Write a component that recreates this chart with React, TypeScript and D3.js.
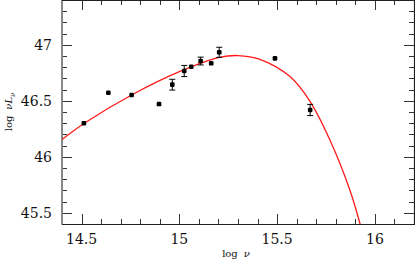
import { useEffect, useRef } from 'react'
import * as d3 from 'd3'

// observed points: log nu, log nuL_nu, error (0 = no bar)
const logNu = [14.512, 14.637, 14.756, 14.896, 14.964, 15.025, 15.061, 15.109, 15.163, 15.204, 15.489, 15.669]
const logL = [46.3, 46.572, 46.552, 46.471, 46.644, 46.766, 46.804, 46.855, 46.835, 46.933, 46.879, 46.418]
const logLErr = [0, 0, 0, 0, 0.048, 0.05, 0, 0.035, 0, 0.045, 0, 0.05]

// model curve
const modelNu = [14.4, 14.518, 14.756, 15.003, 15.205, 15.3, 15.412, 15.566, 15.668, 15.77, 15.872, 15.923, 15.975]
const modelL = [46.154, 46.304, 46.552, 46.762, 46.888, 46.904, 46.87, 46.716, 46.495, 46.15, 45.704, 45.409, 45.079]

const xTicks = [14.5, 15, 15.5, 16]
const xTickLabels = ['14.5', '15', '15.5', '16']
const yTicks = [45.5, 46, 46.5, 47]
const yTickLabels = ['45.5', '46', '46.5', '47']

export default function App() {
  const svgRef = useRef<SVGSVGElement>(null)

  useEffect(() => {
    if (!svgRef.current) return
    const width = 415
    const height = 261
    const left = 62, right = 414, top = 0, bottom = 224

    const svg = d3.select(svgRef.current)
    svg.selectAll('*').remove()
    svg.attr('width', width).attr('height', height)

    const x = d3.scaleLinear().domain([14.4, 16.2]).range([left, right])
    const y = d3.scaleLinear().domain([45.4, 47.4]).range([bottom, top])

    svg.append('defs').append('clipPath').attr('id', 'plot')
      .append('rect').attr('x', left).attr('y', top).attr('width', right - left).attr('height', bottom - top)

    // minor + major ticks on all four sides
    const tickCol = '#333'
    const g = svg.append('g').attr('stroke', tickCol).attr('stroke-width', 1)
    const xMinor = d3.range(144, 163).map((v) => v / 10)
    const yMinor = d3.range(454, 475).map((v) => v / 10)
    xMinor.forEach((v) => {
      const major = xTicks.some((t) => Math.abs(t - v) < 1e-6)
      const len = major ? 10 : 5
      const px = Math.round(x(v)) + 0.5
      g.append('line').attr('x1', px).attr('x2', px).attr('y1', bottom).attr('y2', bottom - len)
      g.append('line').attr('x1', px).attr('x2', px).attr('y1', top).attr('y2', top + len)
    })
    yMinor.forEach((v) => {
      const major = yTicks.some((t) => Math.abs(t - v) < 1e-6)
      const len = major ? 10 : 5
      const py = Math.round(y(v)) + 0.5
      g.append('line').attr('x1', left).attr('x2', left + len).attr('y1', py).attr('y2', py)
      g.append('line').attr('x1', right).attr('x2', right - len).attr('y1', py).attr('y2', py)
    })

    // frame
    svg.append('line').attr('x1', left).attr('x2', left).attr('y1', top).attr('y2', bottom + 0.5)
      .attr('stroke', '#888').attr('stroke-width', 2)
    svg.append('line').attr('x1', left).attr('x2', right + 1).attr('y1', bottom + 0.5).attr('y2', bottom + 0.5)
      .attr('stroke', '#222').attr('stroke-width', 1.2)
    svg.append('line').attr('x1', right + 0.5).attr('x2', right + 0.5).attr('y1', top).attr('y2', bottom)
      .attr('stroke', '#222').attr('stroke-width', 1.2)
    svg.append('line').attr('x1', left).attr('x2', right).attr('y1', top + 0.5).attr('y2', top + 0.5)
      .attr('stroke', '#222').attr('stroke-width', 1.2)

    // tick labels
    const font = '"DejaVu Serif", serif'
    svg.append('g').selectAll('text').data(xTicks).enter().append('text')
      .attr('x', (d) => x(d)).attr('y', 244)
      .attr('text-anchor', 'middle').attr('font-family', font).attr('font-size', 14)
      .attr('fill', '#111')
      .text((d, i) => xTickLabels[i])
    svg.append('g').selectAll('text').data(yTicks).enter().append('text')
      .attr('x', 52).attr('y', (d) => y(d) + 5)
      .attr('text-anchor', 'end').attr('font-family', font).attr('font-size', 14)
      .attr('fill', '#111')
      .text((d, i) => yTickLabels[i])

    // axis titles
    const xt = svg.append('text').attr('x', 236).attr('y', 257)
      .attr('text-anchor', 'middle').attr('font-family', font).attr('font-size', 10).attr('fill', '#111')
    xt.append('tspan').text('log')
    xt.append('tspan').attr('dx', 6).attr('font-style', 'italic').text('ν')

    const yt = svg.append('text').attr('transform', 'translate(12,112) rotate(-90)')
      .attr('text-anchor', 'middle').attr('font-family', font).attr('font-size', 10).attr('fill', '#111')
    yt.append('tspan').text('log')
    yt.append('tspan').attr('dx', 6).attr('font-style', 'italic').text('νL')
    yt.append('tspan').attr('dy', 3).attr('font-size', 7).attr('font-style', 'italic').text('ν')

    // model curve
    const line = d3.line<number>()
      .x((d, i) => x(modelNu[i]))
      .y((d) => y(d))
      .curve(d3.curveCatmullRom.alpha(0.5))
    svg.append('path').datum(modelL)
      .attr('clip-path', 'url(#plot)')
      .attr('d', line)
      .attr('fill', 'none').attr('stroke', '#ff1a1a').attr('stroke-width', 1.3)

    // error bars
    const idx = d3.range(logNu.length)
    const eb = svg.append('g').attr('stroke', '#000').attr('stroke-width', 1)
    idx.filter((i) => logLErr[i] > 0).forEach((i) => {
      const px = x(logNu[i])
      const y1 = y(logL[i] + logLErr[i])
      const y2 = y(logL[i] - logLErr[i])
      eb.append('line').attr('x1', px).attr('x2', px).attr('y1', y1).attr('y2', y2)
      eb.append('line').attr('x1', px - 3).attr('x2', px + 3).attr('y1', y1).attr('y2', y1)
      eb.append('line').attr('x1', px - 3).attr('x2', px + 3).attr('y1', y2).attr('y2', y2)
    })

    // points
    svg.append('g').selectAll('rect').data(idx).enter().append('rect')
      .attr('x', (i) => x(logNu[i]) - 2.3)
      .attr('y', (i) => y(logL[i]) - 2.3)
      .attr('width', 4.6).attr('height', 4.6).attr('rx', 1.2)
      .attr('fill', '#000')
  }, [])

  return <svg ref={svgRef} style={{ position: 'absolute', left: 0, top: 0 }} />
}
